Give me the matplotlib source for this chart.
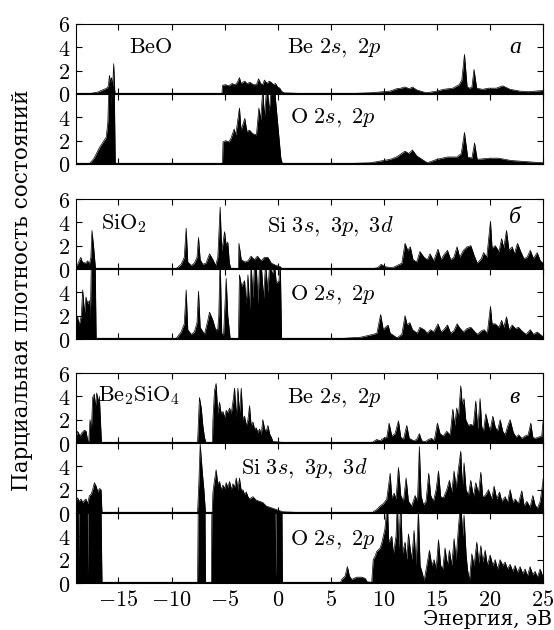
import numpy as np
import matplotlib
matplotlib.use("Agg")
import matplotlib.pyplot as plt

plt.rcParams['mathtext.fontset'] = 'cm'
plt.rcParams['font.family'] = ['DejaVu Serif']

# --- данные (энергия, плотность) ---
beo_be = [(-19.0, 0), (-17.8, 0.02), (-17.0, 0.15), (-16.5, 0.35), (-16.1, 0.5), (-15.95, 0.7),
          (-15.85, 1.6), (-15.75, 1.0), (-15.65, 1.4), (-15.55, 0.6), (-15.45, 2.6), (-15.35, 0.3),
          (-15.3, 0), (-5.25, 0), (-5.2, 0.75), (-4.9, 0.8), (-4.6, 0.7), (-4.3, 0.9), (-4.0, 0.8),
          (-3.8, 1.0), (-3.6, 1.4), (-3.45, 0.9), (-3.3, 1.0), (-3.1, 1.1), (-2.9, 0.9), (-2.6, 1.0),
          (-2.3, 0.8), (-2.0, 0.8), (-1.8, 1.3), (-1.6, 0.9), (-1.4, 0.8), (-1.25, 1.2), (-1.0, 0.9),
          (-0.8, 1.1), (-0.6, 1.0), (-0.4, 0.8), (-0.2, 0.9), (0.0, 0.6), (0.2, 0.5), (0.35, 0.25),
          (0.6, 0.1), (3.0, 0.02), (6.0, 0.01), (8.7, 0.1), (10.0, 0.2), (10.6, 0.25), (11.2, 0.45),
          (11.6, 0.5), (12.0, 0.6), (12.4, 0.45), (12.7, 0.6), (13.1, 0.35), (14.0, 0.1), (15.0, 0.25),
          (15.6, 0.4), (16.5, 0.5), (17.1, 0.8), (17.35, 1.2), (17.6, 3.4), (17.85, 0.6), (18.1, 0.5),
          (18.3, 0.6), (18.5, 2.1), (18.75, 0.5), (19.3, 0.4), (19.9, 0.5), (20.6, 0.5), (21.2, 0.7),
          (21.9, 0.4), (22.8, 0.25), (23.6, 0.2), (24.3, 0.25), (25.0, 0.3)]

beo_o = [(-19.0, 0), (-17.75, 0), (-17.3, 0.5), (-16.8, 1.4), (-16.3, 2.1), (-16.15, 2.3), (-16.0, 3.6),
         (-15.9, 7), (-15.75, 7), (-15.68, 5), (-15.6, 7), (-15.4, 7), (-15.3, 0), (-5.2, 0),
         (-5.15, 1.9), (-4.9, 2.0), (-4.6, 1.9), (-4.4, 2.2), (-4.1, 3.0), (-3.95, 2.5), (-3.6, 4.8),
         (-3.45, 2.9), (-3.1, 3.9), (-2.9, 2.8), (-2.65, 2.9), (-2.35, 2.6), (-2.0, 2.5), (-1.77, 4.8),
         (-1.6, 3.8), (-1.4, 6.5), (-1.25, 4.0), (-1.0, 7), (-0.8, 4.5), (-0.6, 6.5), (-0.3, 6.5),
         (0.0, 3.5), (0.3, 0.5), (0.45, 0), (3.0, 0.01), (6.2, 0.03), (8.7, 0.1), (10.6, 0.4),
         (11.2, 0.6), (11.6, 0.85), (12.0, 1.1), (12.35, 0.9), (12.7, 1.2), (13.1, 0.7), (14.1, 0.1),
         (15.0, 0.4), (16.0, 0.6), (16.9, 0.6), (17.3, 0.9), (17.6, 2.7), (17.9, 0.6), (18.3, 0.5),
         (18.55, 1.8), (18.8, 0.4), (20.0, 0.5), (20.8, 0.5), (22.0, 0.3), (23.5, 0.2), (25.0, 0.1)]

sio2_si = [(-19.0, 0.3), (-18.85, 0.4), (-18.55, 1.0), (-18.4, 0.6), (-18.1, 0.5), (-17.9, 0.7),
           (-17.75, 0.4), (-17.6, 1.0), (-17.5, 3.3), (-17.35, 2.0), (-17.18, 0.2), (-17.1, 0),
           (-9.6, 0), (-9.1, 0.4), (-8.8, 1.0), (-8.62, 3.5), (-8.47, 0.6), (-8.15, 0.3), (-7.85, 0.5),
           (-7.6, 1.0), (-7.46, 2.7), (-7.3, 0.8), (-7.05, 0.4), (-6.75, 0.5), (-6.42, 1.3), (-6.1, 0.8),
           (-5.85, 0.3), (-5.64, 1.0), (-5.42, 5.3), (-5.27, 1.5), (-5.0, 3.2), (-4.85, 2.0), (-4.7, 2.3),
           (-4.55, 0.5), (-4.38, 0), (-3.7, 0), (-3.65, 2.2), (-3.43, 0.8), (-3.1, 0.6), (-2.8, 0.7),
           (-2.5, 1.1), (-2.2, 0.8), (-1.9, 1.1), (-1.55, 0.7), (-1.25, 1.0), (-0.92, 1.0), (-0.6, 0.5),
           (-0.13, 0.3), (0.25, 0.2), (0.4, 0.05), (5.0, 0.02), (9.0, 0.05), (9.4, 0.1), (9.75, 0.4),
           (10.1, 0.2), (10.8, 0.1), (11.7, 0.5), (12.0, 2.2), (12.25, 1.6), (12.5, 1.9), (12.75, 0.8),
           (13.1, 0.6), (13.4, 1.5), (13.8, 1.0), (14.1, 0.8), (14.35, 1.3), (14.7, 0.7), (15.1, 1.7),
           (15.4, 0.8), (15.65, 1.2), (16.0, 1.6), (16.3, 0.8), (16.6, 1.0), (16.9, 1.9), (17.15, 1.0),
           (17.5, 1.6), (17.85, 1.9), (18.2, 2.0), (18.5, 1.2), (18.8, 0.5), (19.2, 0.9), (19.4, 1.4),
           (19.7, 1.0), (20.05, 4.1), (20.2, 1.8), (20.5, 2.0), (20.85, 1.5), (21.1, 2.6), (21.3, 1.8),
           (21.56, 3.3), (21.8, 1.6), (22.1, 1.9), (22.3, 1.3), (22.6, 2.2), (22.9, 1.5), (23.2, 0.9),
           (23.5, 1.0), (23.8, 1.6), (24.1, 0.9), (24.45, 1.4), (24.75, 0.7), (25.0, 0.5)]

sio2_o = [(-19.0, 1.6), (-18.85, 1.9), (-18.7, 1.2), (-18.5, 2.0), (-18.37, 4.2), (-18.2, 2.2),
          (-18.06, 3.6), (-17.9, 3.0), (-17.74, 3.3), (-17.65, 1.8), (-17.55, 7), (-17.2, 7), (-17.1, 0),
          (-9.6, 0), (-9.1, 0.6), (-8.8, 1.3), (-8.62, 4.2), (-8.47, 0.8), (-8.15, 0.4), (-7.85, 0.6),
          (-7.6, 1.4), (-7.46, 4.1), (-7.3, 1.0), (-6.9, 0.4), (-6.58, 1.6), (-6.42, 2.3), (-6.1, 1.6),
          (-5.85, 0.8), (-5.65, 0.8), (-5.55, 2.0), (-5.42, 7), (-5.27, 0.5), (-5.1, 0.3), (-4.85, 5.2),
          (-4.7, 2.0), (-4.47, 0), (-3.7, 0), (-3.6, 5.5), (-3.4, 4.5), (-3.12, 5.0), (-2.96, 3.0),
          (-2.8, 5.5), (-2.65, 2.5), (-2.5, 6.5), (-2.33, 3.5), (-2.18, 6.5), (-2.02, 6.5), (-1.86, 3.0),
          (-1.7, 6.5), (-1.55, 6.5), (-1.33, 3.5), (-1.14, 6.5), (-0.92, 4.0), (-0.76, 6.5), (-0.5, 5.5),
          (-0.3, 6.5), (-0.13, 4.8), (0.12, 5.0), (0.25, 6.5), (0.37, 0), (3.0, 0.01), (5.6, 0.02),
          (7.8, 0.15), (9.0, 0.4), (9.35, 0.5), (9.7, 2.1), (9.95, 0.8), (10.15, 1.0), (10.4, 1.2),
          (10.6, 0.5), (11.25, 0.1), (11.7, 0.4), (12.0, 2.0), (12.2, 1.2), (12.45, 1.4), (12.7, 0.8),
          (13.15, 0.5), (13.4, 1.0), (13.8, 0.8), (14.1, 0.5), (14.4, 0.8), (14.7, 0.6), (15.1, 1.3),
          (15.4, 0.6), (15.65, 0.8), (16.0, 1.2), (16.3, 0.5), (16.6, 0.7), (16.9, 1.3), (17.2, 0.9),
          (17.5, 0.6), (17.85, 0.9), (18.2, 1.0), (18.5, 0.7), (18.8, 0.4), (19.2, 0.7), (19.45, 0.8),
          (19.75, 0.5), (20.05, 2.8), (20.2, 1.3), (20.5, 1.3), (20.85, 1.0), (21.1, 1.6), (21.3, 1.0),
          (21.56, 1.9), (21.8, 0.8), (22.1, 1.2), (22.4, 0.9), (22.7, 1.0), (23.0, 0.7), (23.4, 0.4),
          (23.8, 0.8), (24.1, 0.4), (24.45, 0.6), (25.0, 0.2)]

bsio_be = [(-19.0, 0.5), (-18.85, 1.0), (-18.62, 0.6), (-18.43, 0.9), (-18.2, 1.1), (-18.05, 1.0),
           (-17.9, 0.2), (-17.8, 0.1), (-17.68, 2.0), (-17.55, 1.2), (-17.43, 3.9), (-17.27, 4.2),
           (-17.18, 3.0), (-17.05, 4.3), (-16.9, 3.5), (-16.8, 4.0), (-16.7, 2.0), (-16.6, 0),
           (-7.55, 0), (-7.37, 3.9), (-7.2, 3.0), (-7.05, 1.5), (-6.9, 0.5), (-6.75, 0), (-6.15, 0),
           (-6.1, 2.0), (-5.95, 4.5), (-5.8, 5.1), (-5.64, 2.5), (-5.48, 3.5), (-5.32, 2.5), (-5.16, 2.7),
           (-5.0, 2.2), (-4.85, 2.8), (-4.7, 2.6), (-4.53, 3.0), (-4.38, 2.5), (-4.22, 3.5), (-4.06, 4.7),
           (-3.9, 2.2), (-3.75, 4.7), (-3.6, 2.5), (-3.43, 4.7), (-3.28, 2.0), (-3.12, 2.3), (-2.96, 1.5),
           (-2.8, 2.0), (-2.65, 3.2), (-2.5, 1.5), (-2.33, 1.8), (-2.18, 1.2), (-2.02, 1.3), (-1.86, 0.9),
           (-1.7, 1.2), (-1.55, 0.7), (-1.4, 2.0), (-1.23, 1.2), (-1.08, 1.0), (-0.92, 1.5), (-0.76, 0.8),
           (-0.6, 0.5), (-0.45, 0.15), (-0.13, 0.1), (0.5, 0.05), (3.0, 0.01), (8.9, 0.0), (9.0, 0.1),
           (9.33, 0.3), (9.65, 0.2), (9.96, 0.4), (10.28, 0.5), (10.5, 1.7), (10.75, 0.6), (11.06, 0.8),
           (11.38, 1.9), (11.6, 0.5), (11.85, 0.3), (12.16, 1.5), (12.4, 0.4), (12.8, 0.2), (13.1, 0.3),
           (13.35, 0.8), (13.57, 0.2), (13.9, 0.1), (14.2, 0.3), (14.5, 0.4), (14.75, 0.2), (15.05, 1.7),
           (15.3, 0.8), (15.6, 0.6), (15.93, 1.0), (16.25, 0.7), (16.5, 2.9), (16.68, 1.5), (16.87, 3.0),
           (17.03, 2.2), (17.25, 4.9), (17.4, 3.2), (17.56, 3.8), (17.72, 2.0), (17.97, 1.5), (18.19, 1.6),
           (18.44, 1.5), (18.66, 3.6), (18.85, 1.2), (19.07, 3.8), (19.23, 1.4), (19.39, 1.0), (19.61, 2.5),
           (19.86, 1.5), (20.02, 1.1), (20.27, 2.3), (20.49, 1.4), (20.7, 1.0), (20.96, 2.0), (21.21, 1.0),
           (21.43, 0.7), (21.65, 1.4), (21.9, 2.0), (22.2, 0.9), (22.47, 0.5), (22.7, 0.7), (23.0, 0.4),
           (23.3, 0.6), (23.6, 0.7), (23.85, 1.7), (24.04, 0.5), (24.25, 0.4), (24.57, 0.5), (24.88, 0.6),
           (25.0, 1.8)]

bsio_si = [(-19.0, 1.0), (-18.85, 1.3), (-18.7, 1.0), (-18.53, 1.2), (-18.37, 0.9), (-18.2, 1.1),
           (-18.06, 1.2), (-17.9, 0.8), (-17.74, 1.5), (-17.58, 1.6), (-17.43, 2.0), (-17.27, 2.6),
           (-17.1, 2.3), (-16.95, 1.8), (-16.8, 2.1), (-16.64, 2.0), (-16.55, 0), (-7.55, 0), (-7.43, 2.5),
           (-7.3, 5.9), (-7.1, 3.5), (-6.95, 2.0), (-6.8, 0), (-6.17, 0), (-6.1, 1.8), (-5.95, 2.8),
           (-5.8, 3.7), (-5.64, 2.5), (-5.48, 2.7), (-5.32, 2.0), (-5.16, 2.4), (-5.0, 2.1), (-4.85, 2.6),
           (-4.7, 2.2), (-4.53, 2.7), (-4.38, 2.0), (-4.22, 2.5), (-4.06, 2.2), (-3.9, 3.0), (-3.75, 2.0),
           (-3.6, 3.0), (-3.43, 1.9), (-3.28, 2.0), (-3.12, 1.6), (-2.96, 1.8), (-2.8, 1.4), (-2.65, 1.2),
           (-2.5, 1.3), (-2.33, 1.4), (-2.02, 1.1), (-1.7, 1.0), (-1.4, 0.9), (-1.08, 0.6), (-0.76, 0.5),
           (-0.45, 0.4), (-0.13, 0.3), (0.18, 0.2), (0.5, 0.1), (3.0, 0.01), (8.9, 0.0), (9.0, 0.1),
           (9.33, 0.3), (9.65, 0.6), (9.96, 0.8), (10.28, 1.2), (10.6, 3.4), (10.75, 1.3), (10.97, 1.7),
           (11.15, 1.2), (11.38, 3.9), (11.6, 1.5), (11.85, 1.0), (12.1, 3.0), (12.32, 1.0), (12.63, 0.6),
           (12.95, 1.5), (13.17, 1.0), (13.35, 5.7), (13.51, 1.5), (13.73, 0.7), (13.98, 1.0), (14.23, 3.4),
           (14.42, 1.5), (14.67, 1.0), (14.93, 2.0), (15.15, 3.6), (15.36, 1.4), (15.62, 1.3), (15.93, 2.0),
           (16.18, 2.8), (16.4, 1.8), (16.62, 3.6), (16.81, 2.2), (17.03, 3.8), (17.25, 5.3), (17.4, 2.2),
           (17.56, 4.3), (17.75, 2.0), (17.97, 1.5), (18.19, 2.8), (18.44, 1.4), (18.66, 2.6), (18.92, 1.7),
           (19.14, 3.5), (19.32, 1.4), (19.55, 1.5), (19.86, 2.0), (20.17, 1.2), (20.39, 2.3), (20.64, 1.2),
           (20.9, 1.8), (21.12, 1.0), (21.43, 1.4), (21.65, 0.9), (21.9, 2.0), (22.15, 0.9), (22.37, 1.2),
           (22.68, 0.8), (23.0, 1.9), (23.22, 0.6), (23.47, 1.0), (23.78, 0.5), (24.04, 1.5), (24.25, 0.7),
           (24.47, 0.4), (24.73, 1.0), (24.98, 2.6), (25.0, 2.9)]

bsio_o = [(-19.0, 7), (-18.82, 7), (-18.78, 0.3), (-18.72, 7), (-17.95, 7), (-17.92, 0.3), (-17.85, 7),
          (-16.65, 7), (-16.55, 0), (-7.55, 0), (-7.48, 7), (-6.85, 7), (-6.8, 0), (-6.25, 0), (-6.2, 7),
          (-0.25, 7), (-0.2, 0.5), (-0.1, 7), (0.4, 7), (0.45, 0), (5.9, 0), (6.03, 0.3), (6.35, 0.6),
          (6.57, 1.4), (6.76, 0.6), (6.98, 0.3), (7.2, 0.4), (7.45, 0.5), (7.92, 0.5), (8.24, 0.4),
          (8.45, 0.1), (8.86, 0.05), (9.0, 2.0), (9.18, 2.3), (9.33, 2.7), (9.65, 3.0), (9.8, 3.4),
          (10.1, 4.6), (10.34, 7), (10.46, 3.5), (10.75, 4.0), (10.9, 2.5), (11.15, 4.0), (11.28, 7),
          (11.4, 3.0), (11.6, 7), (11.75, 2.5), (12.0, 3.5), (12.16, 2.0), (12.32, 4.2), (12.48, 3.0),
          (12.63, 2.0), (12.85, 4.5), (13.04, 1.5), (13.26, 6.2), (13.42, 1.5), (13.64, 0.8), (13.8, 0.2),
          (14.05, 1.5), (14.3, 2.8), (14.52, 1.5), (14.74, 2.0), (14.93, 1.2), (15.15, 3.7), (15.36, 1.5),
          (15.55, 1.2), (15.77, 3.0), (15.99, 1.5), (16.18, 2.8), (16.4, 1.5), (16.62, 3.8), (16.81, 2.0),
          (17.03, 4.8), (17.25, 7), (17.44, 4.0), (17.56, 5.8), (17.75, 2.5), (17.88, 1.2), (18.07, 0.2),
          (18.29, 2.5), (18.5, 1.5), (18.76, 3.5), (18.95, 1.7), (19.14, 3.2), (19.32, 1.8), (19.55, 2.8),
          (19.76, 1.5), (20.02, 2.4), (20.27, 1.5), (20.49, 2.0), (20.71, 1.2), (20.96, 2.0), (21.21, 1.5),
          (21.43, 1.8), (21.65, 1.2), (21.9, 1.6), (22.15, 1.0), (22.37, 1.5), (22.59, 0.9), (22.84, 1.4),
          (23.09, 0.8), (23.31, 1.2), (23.53, 0.6), (23.78, 1.4), (24.04, 0.7), (24.25, 1.0), (24.47, 0.5),
          (24.73, 1.2), (25.0, 0.5)]

xticks = [-15, -10, -5, 0, 5, 10, 15, 20, 25]
xticklabels = [r'$-15$', r'$-10$', r'$-5$', r'$0$', r'$5$', r'$10$', r'$15$', r'$20$', r'$25$']

# панели: данные, подписи (текст, x, y), буква группы (с её высотой), верх панели в пикселях
panels = [
    (beo_be, [(r'$\mathrm{BeO}$', -14.0, 4.0), (r'$\mathrm{Be}\ 2s,\ 2p$', 0.9, 4.0)], ('а', 4.0), 24),
    (beo_o, [(r'$\mathrm{O}\ 2s,\ 2p$', 1.2, 4.0)], None, 94),
    (sio2_si, [(r'$\mathrm{SiO_2}$', -16.6, 3.9), (r'$\mathrm{Si}\ 3s,\ 3p,\ 3d$', -1.0, 3.7)], ('б', 4.4), 199),
    (sio2_o, [(r'$\mathrm{O}\ 2s,\ 2p$', 1.2, 3.8)], None, 269),
    (bsio_be, [(r'$\mathrm{Be_2SiO_4}$', -16.9, 4.1), (r'$\mathrm{Be}\ 2s,\ 2p$', 0.9, 3.9)], ('в', 3.9), 373),
    (bsio_si, [(r'$\mathrm{Si}\ 3s,\ 3p,\ 3d$', -3.45, 3.85)], None, 443),
    (bsio_o, [(r'$\mathrm{O}\ 2s,\ 2p$', 1.2, 3.7)], None, 513),
]

W, H = 554, 630
fig = plt.figure(figsize=(W / 100, H / 100), dpi=100)

for i, (pts, labels, letter, top) in enumerate(panels):
    ax = fig.add_axes([76 / W, 1 - (top + 70) / H, 467 / W, 70 / H])
    e = np.array([p[0] for p in pts])
    d = np.array([p[1] for p in pts])
    ax.fill_between(e, 0, d, color='black', lw=0)
    ax.plot(e, d, color='black', lw=0.5)
    ax.axhline(0, color='black', lw=1.6)
    ax.set_xlim(-19, 25)
    ax.set_ylim(0, 6)
    for sp in ax.spines.values():
        sp.set_linewidth(0.8)
    ax.tick_params(direction='in', top=True, right=True, length=4, width=0.8,
                   labelsize=16, pad=4)
    ax.set_xticks(xticks)
    if i == len(panels) - 1:
        ax.set_xticklabels(xticklabels)
    else:
        ax.set_xticklabels([])
    if letter is not None:
        ax.set_yticks([0, 2, 4, 6])
        ax.set_yticklabels([r'$0$', r'$2$', r'$4$', r'$6$'])
    else:
        ax.set_yticks([0, 2, 4])
        ax.set_yticklabels([r'$0$', r'$2$', r'$4$'])
    for txt, lx, ly in labels:
        ax.text(lx, ly, txt, fontsize=16, va='center', ha='left')
    if letter is not None:
        ax.text(21.8, letter[1], letter[0], fontsize=17, style='italic',
                va='center', ha='left', family='Liberation Serif')

fig.text(22 / W, 1 - 290 / H, 'Парциальная плотность состояний', rotation=90,
         fontsize=15.5, va='center', ha='center')
fig.text(552 / W, 1 - 625 / H, 'Энергия, эВ', fontsize=14.5, va='baseline', ha='right')

fig.savefig('out.png', dpi=100)
